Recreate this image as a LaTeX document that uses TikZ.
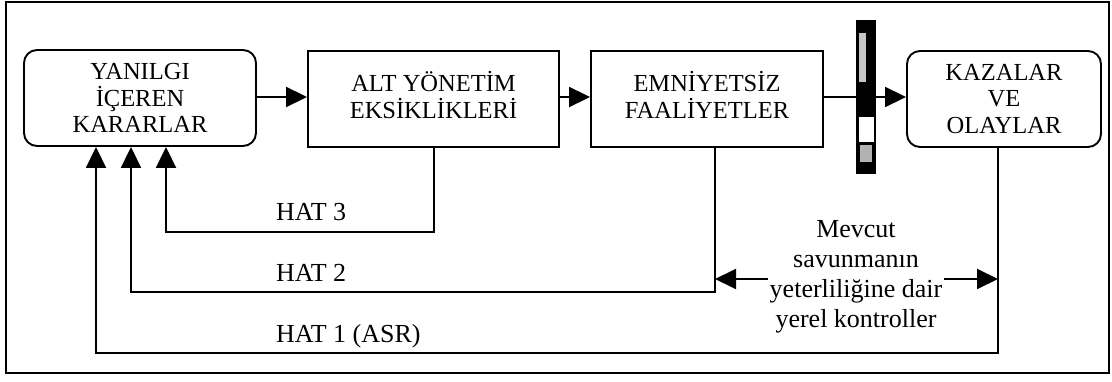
\documentclass[tikz,border=0pt]{standalone}
\usepackage{fontspec}
\setmainfont{Liberation Serif}
\usetikzlibrary{arrows.meta}
\begin{document}
\begin{tikzpicture}[x=1pt,y=-1pt,
  stroke/.style={line width=1.9pt},
  flowbox/.style={draw, stroke, inner sep=0pt, minimum height=96pt},
  softbox/.style={flowbox, rounded corners=13pt},
  boxtext/.style={align=center, inner sep=0pt, font=\fontsize{24.5}{26.5}\selectfont},
  note/.style={inner sep=0pt, font=\fontsize{26}{30}\selectfont},
  tip/.style={-{Triangle[length=21pt,width=20pt]}},
]
\useasboundingbox (0,0) rectangle (1112,382);
% outer frame
\draw[stroke] (6,2) rectangle (1109,373);

% main chain of boxes
\node[softbox, minimum width=232pt] (dec)  at (140,98)   {};
\node[flowbox, minimum width=251pt] (mgmt) at (433.5,99) {};
\node[flowbox, minimum width=232pt] (act)  at (707,99)   {};
\node[softbox, minimum width=194pt] (acc)  at (1004,99)  {};

\node[boxtext] (dec-t)  at (dec.center)               {YANILGI\\İÇEREN\\KARARLAR};
\node[boxtext] (mgmt-t) at ([yshift=4pt]mgmt.center)  {ALT YÖNETİM\\EKSİKLİKLERİ};
\node[boxtext] (act-t)  at ([yshift=4pt]act.center)   {EMNİYETSİZ\\FAALİYETLER};
\node[boxtext] (acc-t)  at (acc.center)               {KAZALAR\\VE\\OLAYLAR};

% forward arrows
\draw[stroke,tip] ([yshift=1pt]dec.east) -- ([yshift=2pt]mgmt.west);
\draw[stroke,tip] ([yshift=2pt]mgmt.east) -- ([yshift=2pt]act.west);
\draw[stroke,tip] ([yshift=2pt]act.east) -- ([yshift=2pt]acc.west);

% defence barrier
\node[fill=black, inner sep=0pt, minimum width=20pt, minimum height=154pt] (bar) at (866,97) {};
\fill[gray!45] (858.5,33) rectangle (866,82);
\fill[white] (859,117) rectangle (874,142);
\fill[gray!60] (860,145) rectangle (872,162);

% feedback lines
\coordinate (f3) at ([xshift=0.5pt]mgmt.south);
\coordinate (f2) at ([xshift=8pt]act.south);
\coordinate (f1) at ([xshift=-6pt]acc.south);
\coordinate (h3) at (166,232);
\coordinate (h2) at (131,292);
\coordinate (h1) at (96,353);
\draw[stroke,tip] (f3) |- (h3) -- (h3 |- dec.south);
\draw[stroke,tip] (f2) |- (h2) -- (h2 |- dec.south);
\draw[stroke,tip] (f1) |- (h1) -- (h1 |- dec.south);

\node[note, anchor=base west] (hat3) at (276,221) {HAT 3};
\node[note, anchor=base west] (hat2) at (276,282) {HAT 2};
\node[note, anchor=base west] (hat1) at (276,342) {HAT 1 (ASR)};

% local checks between the two feedback lines
\node[note, align=center] (ctl) at (856,277) {Mevcut\\savunmanın\\yeterliliğine dair\\yerel kontroller};
\coordinate (gap) at (856,279);
\draw[stroke,tip] ([xshift=-2pt]gap -| ctl.west) -- (gap -| f2);
\draw[stroke,tip] ([xshift=2pt]gap -| ctl.east) -- (gap -| f1);
\end{tikzpicture}
\end{document}
